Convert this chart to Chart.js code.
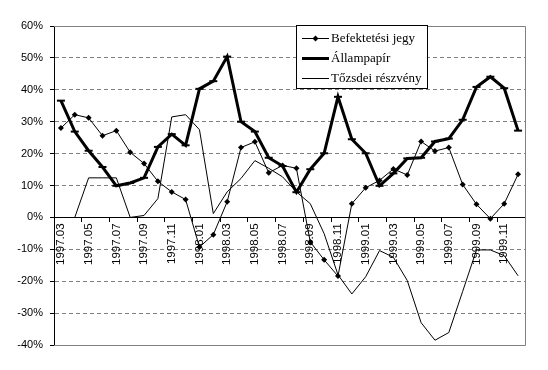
<!DOCTYPE html>
<html>
<head>
<meta charset="utf-8">
<script src="https://cdn.jsdelivr.net/npm/chart.js@4"></script>
<style>
  html, body { margin: 0; padding: 0; background: #fff; }
</style>
</head>
<body>
<canvas id="myChart" width="548" height="370"></canvas>
<script>
// months, 1997.03 - 1999.12
const months = [
  '1997.03', '1997.04', '1997.05', '1997.06', '1997.07', '1997.08', '1997.09', '1997.10', '1997.11', '1997.12',
  '1998.01', '1998.02', '1998.03', '1998.04', '1998.05', '1998.06', '1998.07', '1998.08', '1998.09', '1998.10',
  '1998.11', '1998.12', '1999.01', '1999.02', '1999.03', '1999.04', '1999.05', '1999.06', '1999.07', '1999.08',
  '1999.09', '1999.10', '1999.11', '1999.12',
];

// yearly returns, %
const befektetesiJegy = [
  28.0, 32.2, 31.2, 25.6, 27.2, 20.4, 16.9, 11.3, 8.0, 5.6,
  -9.3, -5.4, 4.9, 21.9, 23.7, 14.0, 16.3, 15.4, -7.7, -13.3,
  -18.4, 4.3, 9.3, 11.6, 15.2, 13.3, 23.8, 20.8, 21.9, 10.3,
  4.1, -0.4, 4.3, 13.5,
];
const allampapir = [
  36.6, 26.9, 20.9, 15.8, 9.9, 10.8, 12.4, 22.1, 26.1, 22.6,
  40.3, 42.7, 50.4, 30.0, 26.9, 18.7, 16.1, 7.9, 15.1, 20.1,
  37.8, 24.5, 20.1, 9.9, 13.8, 18.5, 18.7, 23.8, 24.7, 30.6,
  40.9, 44.1, 40.5, 27.2,
];
const tozsdeiReszveny = [
  null, 0, 12.4, 12.4, 12.4, 0, 0.6, 5.9, 31.5, 32.2,
  27.5, 1.2, 8.0, 12.2, 17.8, 15.4, 12.7, 8.0, 4.3, -5.1,
  -18.0, -24.0, -18.6, -10.4, -12.5, -19.8, -33.0, -38.5, -36.1, -23.2,
  -10.2, -10.2, -12.0, -18.3,
];

const yMin = -40;
const yMax = 60;
const yStep = 10;

const GREY = '#808080';
const SANS = '"Liberation Sans", Arial, sans-serif';
const SERIF = '"Liberation Serif", "Times New Roman", serif';

// grey frame on top, right and bottom of the plot area
const frame = {
  id: 'frame',
  beforeDatasetsDraw(chart) {
    const { ctx, chartArea: a } = chart;
    ctx.save();
    ctx.strokeStyle = GREY;
    ctx.lineWidth = 1;
    ctx.beginPath();
    ctx.moveTo(a.left, Math.round(a.top) + 0.5);
    ctx.lineTo(Math.round(a.right) + 0.5, Math.round(a.top) + 0.5);
    ctx.lineTo(Math.round(a.right) + 0.5, Math.round(a.bottom) + 0.5);
    ctx.lineTo(a.left, Math.round(a.bottom) + 0.5);
    ctx.stroke();
    ctx.restore();
  },
};

// boxed legend inside the plot
const legendBox = {
  id: 'legendBox',
  afterDraw(chart) {
    const ctx = chart.ctx;
    const x = 296, y = 25, w = 131, h = 63;
    ctx.save();
    ctx.fillStyle = '#fff';
    ctx.fillRect(x, y, w, h);
    ctx.strokeStyle = '#000';
    ctx.lineWidth = 1;
    ctx.strokeRect(x + 0.5, y + 0.5, w, h);
    chart.data.datasets.forEach((ds, i) => {
      const cy = y + 13.5 + i * 20;
      ctx.beginPath();
      ctx.moveTo(x + 6, cy);
      ctx.lineTo(x + 33, cy);
      ctx.lineWidth = ds.borderWidth;
      ctx.strokeStyle = '#000';
      ctx.stroke();
      if (ds.pointStyle === 'rectRot') {
        const mx = x + 19.5;
        ctx.beginPath();
        ctx.moveTo(mx, cy - 3);
        ctx.lineTo(mx + 3, cy);
        ctx.lineTo(mx, cy + 3);
        ctx.lineTo(mx - 3, cy);
        ctx.closePath();
        ctx.fillStyle = '#000';
        ctx.fill();
      }
      ctx.fillStyle = '#000';
      ctx.font = '13px ' + SERIF;
      ctx.textBaseline = 'middle';
      ctx.textAlign = 'left';
      ctx.fillText(ds.label, x + 35, cy + 0.5);
    });
    ctx.restore();
  },
};

const ctx = document.getElementById('myChart').getContext('2d');
const myChart = new Chart(ctx, {
  type: 'line',
  data: {
    labels: months,
    datasets: [
      {
        label: 'Befektetési jegy',
        data: befektetesiJegy,
        borderColor: '#000',
        backgroundColor: '#000',
        borderWidth: 1,
        pointStyle: 'rectRot',
        pointRadius: 3,
        pointBorderWidth: 0,
        tension: 0,
      },
      {
        label: 'Állampapír',
        data: allampapir,
        borderColor: '#000',
        backgroundColor: '#000',
        borderWidth: 3,
        pointStyle: 'line',
        pointRadius: 4,
        pointBorderWidth: 2,
        tension: 0,
      },
      {
        label: 'Tőzsdei részvény',
        data: tozsdeiReszveny,
        borderColor: '#000',
        borderWidth: 1,
        pointRadius: 0,
        tension: 0,
      },
    ],
  },
  options: {
    responsive: false,
    animation: false,
    devicePixelRatio: 1,
    layout: { padding: { left: 0, top: 26, right: 23, bottom: 25 } },
    plugins: {
      legend: { display: false },
      tooltip: { enabled: false },
    },
    scales: {
      x: {
        type: 'category',
        position: { y: 0 },
        offset: true,
        border: { color: '#000', width: 1 },
        grid: {
          offset: true,
          drawOnChartArea: false,
          tickLength: 4,
          color: (c) => (c.index > 0 && c.index % 2 === 0 ? '#000' : 'rgba(0,0,0,0)'),
        },
        ticks: {
          autoSkip: false,
          minRotation: 90,
          maxRotation: 90,
          padding: 2,
          color: '#000',
          font: { family: SANS, size: 11.5 },
          callback: function (val, idx) {
            return idx % 2 === 0 ? this.getLabelForValue(val) : '';
          },
        },
      },
      y: {
        min: yMin,
        max: yMax,
        border: { color: '#000', width: 1, dash: [4, 3] },
        grid: {
          color: (c) => (c.tick && (c.tick.value === yMax || c.tick.value === yMin) ? 'rgba(0,0,0,0)' : GREY),
          tickColor: '#000',
          tickLength: 4,
          tickBorderDash: [],
        },
        ticks: {
          stepSize: yStep,
          padding: 7,
          color: '#000',
          font: { family: SANS, size: 11 },
          callback: (v) => v + '%',
        },
        afterFit: (scale) => {
          scale.width = 54;
        },
      },
    },
  },
  plugins: [frame, legendBox],
});
</script>
</body>
</html>
